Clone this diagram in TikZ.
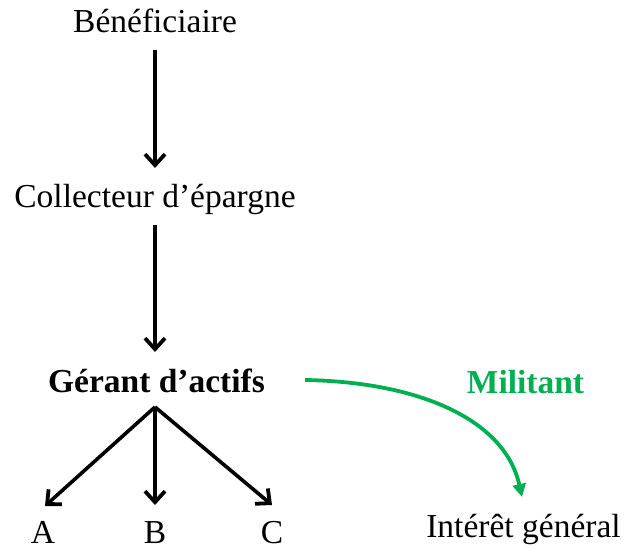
\documentclass[tikz,border=0pt]{standalone}
\usepackage{fontspec}
\setmainfont{Liberation Serif}
\usetikzlibrary{arrows.meta,calc}
\definecolor{mgreen}{RGB}{0,176,80}
\begin{document}
\begin{tikzpicture}[x=1pt,y=-1pt,
  lbl/.style={inner sep=0pt,anchor=base,font=\fontsize{33.5}{40}\selectfont},
  blk/.style={line width=3.6pt,-{Straight Barb[length=11pt,width=20pt,line width=3.8pt]}},
  grn/.style={draw=mgreen,line width=3.8pt,-{Triangle[length=13pt,width=13pt,fill=mgreen]}}]
\useasboundingbox (0,0) rectangle (624,548);
\node[lbl] (ben) at (155,33) {Bénéficiaire};
\node[lbl] (col) at (155,208) {Collecteur d’épargne};
\node[lbl,font=\fontsize{33.5}{40}\selectfont\bfseries] (ger) at (156.5,392) {Gérant d’actifs};
\node[lbl,font=\fontsize{33.5}{40}\selectfont\bfseries,text=mgreen] (mil) at (525.5,393) {Militant};
\node[lbl] (a) at (43,543) {A};
\node[lbl] (b) at (155,543) {B};
\node[lbl] (c) at (272,543) {C};
\node[lbl] (int) at (523.5,537) {Intérêt général};
\draw[blk] ($(ben.base)+(0,17)$) -- ($(col.base)+(0,-40)$);
\draw[blk] ($(col.base)+(0,17)$) -- ($(ger.base)+(-1.5,-40)$);
\coordinate (gb) at ($(ger.base)+(-1.5,15)$);
\draw[blk] (gb) -- ($(a.base)+(2,-37)$);
\draw[blk] (gb) -- ($(b.base)+(0,-38)$);
\draw[blk] (gb) -- ($(c.base)+(0,-38)$);
\coordinate (gs) at ($(ger.base east)+(40,-12)$);
\coordinate (ge) at ($(int.base)+(-1.5,-40)$);
\draw[grn] (gs) .. controls (420,382) and (505,420) .. (ge);
\end{tikzpicture}
\end{document}
